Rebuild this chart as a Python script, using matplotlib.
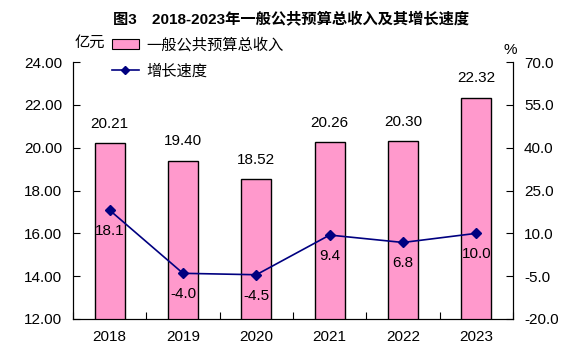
import matplotlib
matplotlib.use('Agg')
from matplotlib import pyplot as plt
from matplotlib.patches import Patch
from matplotlib.lines import Line2D

plt.rcParams['font.family'] = ['Liberation Sans', 'Noto Sans CJK SC']

years = ['2018', '2019', '2020', '2021', '2022', '2023']
revenue = [20.21, 19.40, 18.52, 20.26, 20.30, 22.32]
growth = [18.1, -4.0, -4.5, 9.4, 6.8, 10.0]
growth_labels = ['18.1', '-4.0', '-4.5', '9.4', '6.8', '10.0']

fig = plt.figure(figsize=(5.82, 3.56), dpi=100)
ax = fig.add_axes([73 / 582, 1 - 319 / 356, 440 / 582, 257 / 356])
ax2 = ax.twinx()

x = list(range(len(years)))
ax.bar(x, revenue, width=0.41, color='#FF99CC', edgecolor='black', linewidth=1, zorder=2)
for i, v in enumerate(revenue):
    ax.annotate('%.2f' % v, (i, v), xytext=(0, 9), textcoords='offset points',
                ha='center', va='bottom', fontsize=11)

ax.set_xlim(-0.5, 5.5)
ax.set_ylim(12, 24)
ax.set_yticks([12, 14, 16, 18, 20, 22, 24])
ax.set_yticklabels(['%.2f' % t for t in [12, 14, 16, 18, 20, 22, 24]], fontsize=11)
ax.set_xticks([i + 0.5 for i in range(-1, 6)])
ax.set_xticklabels([])
ax.set_xticks(x, minor=True)
ax.set_xticklabels(years, minor=True, fontsize=11)
ax.tick_params(axis='x', which='minor', length=0, pad=8)
ax.tick_params(axis='x', which='major', direction='in', length=5)
ax.tick_params(axis='y', direction='in', length=5, pad=8)
ax.spines['top'].set_visible(False)

ax2.plot(x, growth, color='#000080', marker='D', markersize=5, linewidth=1.2, zorder=3)
for i, v in enumerate(growth):
    ax2.annotate(growth_labels[i], (i, v), xytext=(0, -15), textcoords='offset points',
                 ha='center', va='center', fontsize=11)
ax2.set_ylim(-20, 70)
ax2.set_yticks([-20, -5, 10, 25, 40, 55, 70])
ax2.set_yticklabels(['%.1f' % t for t in [-20, -5, 10, 25, 40, 55, 70]], fontsize=11)
ax2.tick_params(axis='y', direction='in', length=5, pad=8)
ax2.spines['top'].set_visible(False)

fig.text(0.5, 1 - 20 / 356, '图3　2018-2023年一般公共预算总收入及其增长速度',
         ha='center', va='center', fontsize=11, fontweight='bold')
fig.text(75 / 582, 1 - 43 / 356, '亿元', ha='left', va='center', fontsize=11)
fig.text(510 / 582, 1 - 50 / 356, '%', ha='center', va='center', fontsize=11)

handles = [Patch(facecolor='#FF99CC', edgecolor='black', linewidth=0.8),
           Line2D([], [], color='#000080', marker='D', markersize=4, linewidth=1.2)]
fig.legend(handles, ['一般公共预算总收入', '增长速度'], loc='upper left',
           bbox_to_anchor=(104 / 582, 1 - 30 / 356), frameon=False, fontsize=11,
           handlelength=1.8, handletextpad=0.5, labelspacing=0.75, borderpad=0)

fig.savefig('out.png', dpi=100)
